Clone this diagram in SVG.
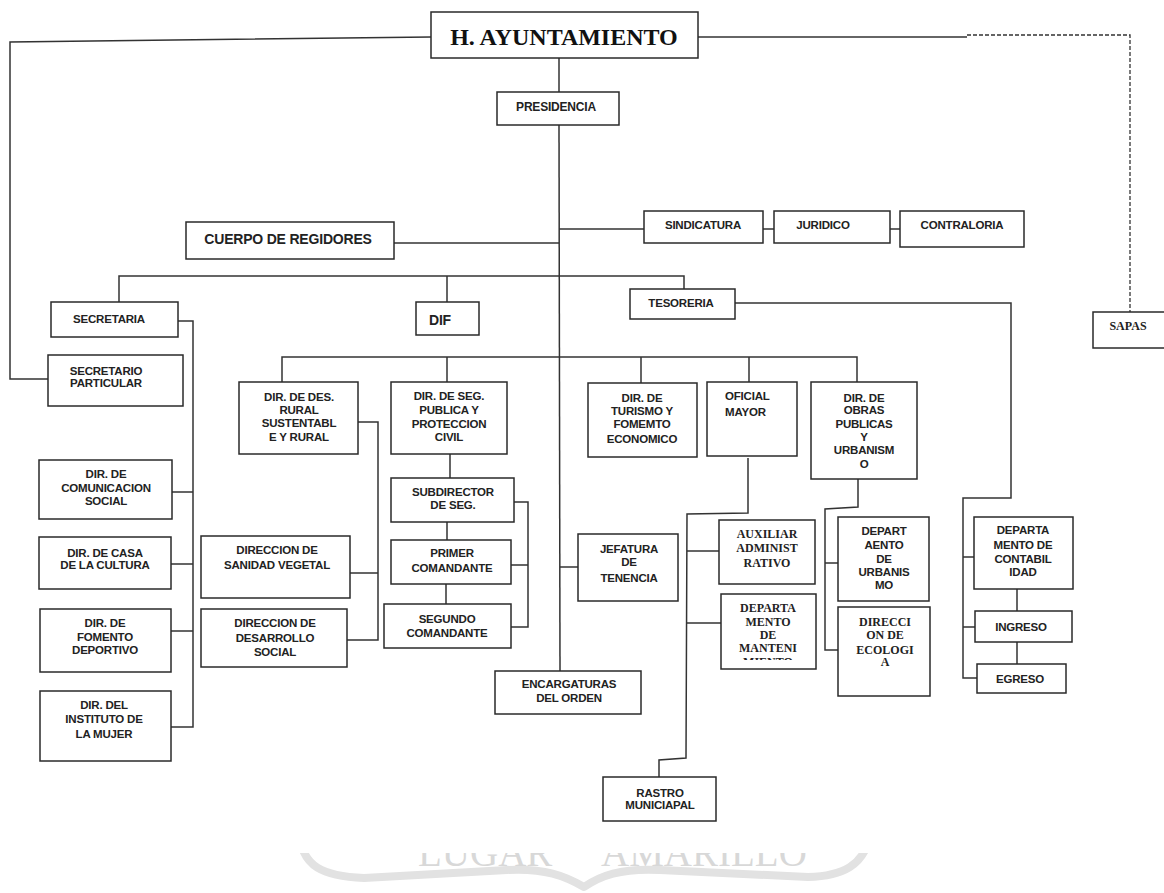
<svg xmlns="http://www.w3.org/2000/svg" width="1164" height="893" viewBox="0 0 1164 893">
<style>
.b{fill:#fff;stroke:#2a2a2a;stroke-width:1.5}
.c{fill:none;stroke:#333;stroke-width:1.5}
.d{fill:none;stroke:#333;stroke-width:1.3;stroke-dasharray:4 2}
.s{font-family:"Liberation Sans",Arial,sans-serif;font-weight:bold;font-size:11.5px;text-anchor:middle;fill:#222;letter-spacing:-0.2px}
.r{font-family:"Liberation Serif","Times New Roman",serif;font-weight:bold;font-size:12px;text-anchor:middle;fill:#222}
.w{fill:none;stroke:#e2e2e2;stroke-width:8;stroke-linecap:round;stroke-linejoin:round}
.wt{font-family:"Liberation Serif","Times New Roman",serif;font-size:39px;fill:#d8d8d8}
</style>
<defs>
<clipPath id="mclip"><rect x="721" y="594" width="95" height="66"/></clipPath>
<clipPath id="wclip"><rect x="0" y="853" width="1164" height="40"/></clipPath>
</defs>
<rect x="0" y="0" width="1164" height="893" fill="#fff"/>

<g id="watermark" clip-path="url(#wclip)">
<path class="w" d="M300,840 C305,865 320,876 364,878 L507,870 C545,868 565,876 584,887 C600,876 620,868 660,870 L808,877 C845,876 862,864 869,840"/>
<text class="wt" x="418" y="866">LUGAR</text>
<text class="wt" x="601" y="866">AMARILLO</text>
</g>

<g id="connectors">
<path class="c" d="M431,37 L10,42 L10,379 L48,379"/>
<path class="c" d="M698,37 L967,37"/>
<path class="d" d="M967,35 L1130,35 L1130,312"/>
<path class="c" d="M559,58 L559,92"/>
<path class="c" d="M559,125 L560,671"/>
<path class="c" d="M394,243 L559,243"/>
<path class="c" d="M559,229 L644,229 M763,229 L774,229 M890,229 L900,229"/>
<path class="c" d="M119,302 L119,276 L684,276 L684,289 M447,276 L447,302"/>
<path class="c" d="M178,321 L193,321 L193,727 L171,727 M172,492 L193,492 M171,564 L193,564 M171,631 L193,631"/>
<path class="c" d="M282,382 L282,357 L857,357 L857,382 M447,357 L447,382 M641,357 L641,383 M749,357 L749,382"/>
<path class="c" d="M358,422 L378,422 L378,640 L347,640 M350,573 L378,573"/>
<path class="c" d="M450,454 L450,478 M447,522 L447,540 M446,584 L446,604"/>
<path class="c" d="M514,502 L528,502 L528,627 L511,627 M511,565 L528,565"/>
<path class="c" d="M560,567 L578,567"/>
<path class="c" d="M748,458 L748,513 L687,514 L686,758 L659,760 L659,777 M687,551 L719,551 M687,623 L721,623"/>
<path class="c" d="M858,479 L858,507 L825,509 L825,650 L838,650 M825,563 L838,563"/>
<path class="c" d="M735,303 L1011,303 L1011,498 L963,498 L963,678 L977,678 M963,557 L974,557 M963,627 L975,627"/>
<path class="c" d="M1017,589 L1017,611 M1017,642 L1017,664"/>
</g>

<g id="n-ayuntamiento"><rect class="b" x="431" y="12" width="267" height="46"/>
<text x="564" y="45" style="font-family:'Liberation Serif','Times New Roman',serif;font-weight:bold;font-size:24px;text-anchor:middle;fill:#111">H. AYUNTAMIENTO</text></g>

<g id="n-presidencia"><rect class="b" x="497" y="92" width="122" height="33"/>
<text class="s" x="556" y="111" style="font-size:12px">PRESIDENCIA</text></g>

<g id="n-regidores"><rect class="b" x="186" y="222" width="208" height="37"/>
<text class="s" x="288" y="244" style="font-size:14px">CUERPO DE REGIDORES</text></g>

<g id="n-sindicatura"><rect class="b" x="644" y="211" width="119" height="32"/>
<text class="s" x="703" y="229">SINDICATURA</text></g>

<g id="n-juridico"><rect class="b" x="774" y="211" width="116" height="32"/>
<text class="s" x="823" y="229">JURIDICO</text></g>

<g id="n-contraloria"><rect class="b" x="900" y="211" width="124" height="36"/>
<text class="s" x="962" y="229">CONTRALORIA</text></g>

<g id="n-secretaria"><rect class="b" x="51" y="302" width="127" height="35"/>
<text class="s" x="109" y="323">SECRETARIA</text></g>

<g id="n-dif"><rect class="b" x="416" y="302" width="63" height="33"/>
<text class="s" x="440" y="325" style="font-size:14px">DIF</text></g>

<g id="n-tesoreria"><rect class="b" x="630" y="289" width="105" height="30"/>
<text class="s" x="681" y="307">TESORERIA</text></g>

<g id="n-sapas"><rect class="b" x="1093" y="312" width="80" height="36"/>
<text class="r" x="1128" y="330">SAPAS</text></g>

<g id="n-secpart"><rect class="b" x="48" y="355" width="135" height="51"/>
<text class="s" x="106" y="375">SECRETARIO</text><text class="s" x="106" y="387">PARTICULAR</text></g>

<g id="n-comunicacion"><rect class="b" x="39" y="460" width="133" height="59"/>
<text class="s" x="106" y="478">DIR. DE</text><text class="s" x="106" y="492">COMUNICACION</text><text class="s" x="106" y="505">SOCIAL</text></g>

<g id="n-cultura"><rect class="b" x="39" y="537" width="132" height="52"/>
<text class="s" x="105" y="557">DIR. DE CASA</text><text class="s" x="105" y="569">DE LA CULTURA</text></g>

<g id="n-deporte"><rect class="b" x="40" y="609" width="131" height="63"/>
<text class="s" x="105" y="627">DIR. DE</text><text class="s" x="105" y="641">FOMENTO</text><text class="s" x="105" y="654">DEPORTIVO</text></g>

<g id="n-mujer"><rect class="b" x="40" y="691" width="131" height="70"/>
<text class="s" x="104" y="709">DIR. DEL</text><text class="s" x="104" y="723">INSTITUTO DE</text><text class="s" x="104" y="738">LA MUJER</text></g>

<g id="n-rural"><rect class="b" x="239" y="382" width="119" height="72"/>
<text class="s" x="299" y="401">DIR. DE DES.</text><text class="s" x="299" y="414">RURAL</text><text class="s" x="299" y="427">SUSTENTABL</text><text class="s" x="299" y="441">E Y RURAL</text></g>

<g id="n-sanidad"><rect class="b" x="201" y="536" width="149" height="62"/>
<text class="s" x="277" y="554">DIRECCION DE</text><text class="s" x="277" y="569">SANIDAD VEGETAL</text></g>

<g id="n-desarrollo"><rect class="b" x="201" y="609" width="146" height="58"/>
<text class="s" x="275" y="627">DIRECCION DE</text><text class="s" x="275" y="642">DESARROLLO</text><text class="s" x="275" y="656">SOCIAL</text></g>

<g id="n-seguridad"><rect class="b" x="391" y="382" width="116" height="72"/>
<text class="s" x="449" y="400">DIR. DE SEG.</text><text class="s" x="449" y="414">PUBLICA Y</text><text class="s" x="449" y="428">PROTECCION</text><text class="s" x="449" y="441">CIVIL</text></g>

<g id="n-subdirector"><rect class="b" x="391" y="478" width="123" height="44"/>
<text class="s" x="453" y="496">SUBDIRECTOR</text><text class="s" x="453" y="509">DE SEG.</text></g>

<g id="n-primer"><rect class="b" x="391" y="540" width="120" height="44"/>
<text class="s" x="452" y="557">PRIMER</text><text class="s" x="452" y="572">COMANDANTE</text></g>

<g id="n-segundo"><rect class="b" x="384" y="604" width="127" height="44"/>
<text class="s" x="447" y="623">SEGUNDO</text><text class="s" x="447" y="637">COMANDANTE</text></g>

<g id="n-turismo"><rect class="b" x="588" y="383" width="109" height="74"/>
<text class="s" x="642" y="402">DIR. DE</text><text class="s" x="642" y="415">TURISMO Y</text><text class="s" x="642" y="428">FOMEMTO</text><text class="s" x="642" y="443">ECONOMICO</text></g>

<g id="n-oficial"><rect class="b" x="707" y="382" width="90" height="74"/>
<text class="s" x="725" y="400" style="text-anchor:start">OFICIAL</text><text class="s" x="725" y="416" style="text-anchor:start">MAYOR</text></g>

<g id="n-obras"><rect class="b" x="811" y="382" width="106" height="97"/>
<text class="s" x="864" y="402">DIR. DE</text><text class="s" x="864" y="414">OBRAS</text><text class="s" x="864" y="428">PUBLICAS</text><text class="s" x="864" y="441">Y</text><text class="s" x="864" y="454">URBANISM</text><text class="s" x="864" y="468">O</text></g>

<g id="n-jefatura"><rect class="b" x="578" y="534" width="100" height="67"/>
<text class="s" x="629" y="553">JEFATURA</text><text class="s" x="629" y="566">DE</text><text class="s" x="629" y="582">TENENCIA</text></g>

<g id="n-encargaturas"><rect class="b" x="495" y="671" width="146" height="43"/>
<text class="s" x="569" y="688">ENCARGATURAS</text><text class="s" x="569" y="702">DEL ORDEN</text></g>

<g id="n-auxiliar"><rect class="b" x="719" y="520" width="96" height="64"/>
<text class="r" x="767" y="538">AUXILIAR</text><text class="r" x="767" y="552">ADMINIST</text><text class="r" x="767" y="567">RATIVO</text></g>

<g id="n-mantenimiento"><rect class="b" x="721" y="594" width="95" height="75"/>
<g clip-path="url(#mclip)"><text class="r" x="768" y="612">DEPARTA</text><text class="r" x="768" y="626">MENTO</text><text class="r" x="768" y="639">DE</text><text class="r" x="768" y="652">MANTENI</text><text class="r" x="768" y="666">MIENTO</text></g></g>

<g id="n-urbanismo"><rect class="b" x="838" y="517" width="91" height="84"/>
<text class="s" x="884" y="535">DEPART</text><text class="s" x="884" y="549">AENTO</text><text class="s" x="884" y="563">DE</text><text class="s" x="884" y="576">URBANIS</text><text class="s" x="884" y="589">MO</text></g>

<g id="n-ecologia"><rect class="b" x="838" y="607" width="92" height="89"/>
<text class="r" x="885" y="626">DIRECCI</text><text class="r" x="885" y="639">ON DE</text><text class="r" x="885" y="654">ECOLOGI</text><text class="r" x="885" y="666">A</text></g>

<g id="n-contabilidad"><rect class="b" x="974" y="517" width="99" height="72"/>
<text class="s" x="1023" y="534">DEPARTA</text><text class="s" x="1023" y="549">MENTO DE</text><text class="s" x="1023" y="563">CONTABIL</text><text class="s" x="1023" y="576">IDAD</text></g>

<g id="n-ingreso"><rect class="b" x="975" y="611" width="97" height="31"/>
<text class="s" x="1021" y="631">INGRESO</text></g>

<g id="n-egreso"><rect class="b" x="977" y="664" width="89" height="29"/>
<text class="s" x="1020" y="683">EGRESO</text></g>

<g id="n-rastro"><rect class="b" x="603" y="777" width="113" height="44"/>
<text class="s" x="660" y="797">RASTRO</text><text class="s" x="660" y="809">MUNICIAPAL</text></g>
</svg>
